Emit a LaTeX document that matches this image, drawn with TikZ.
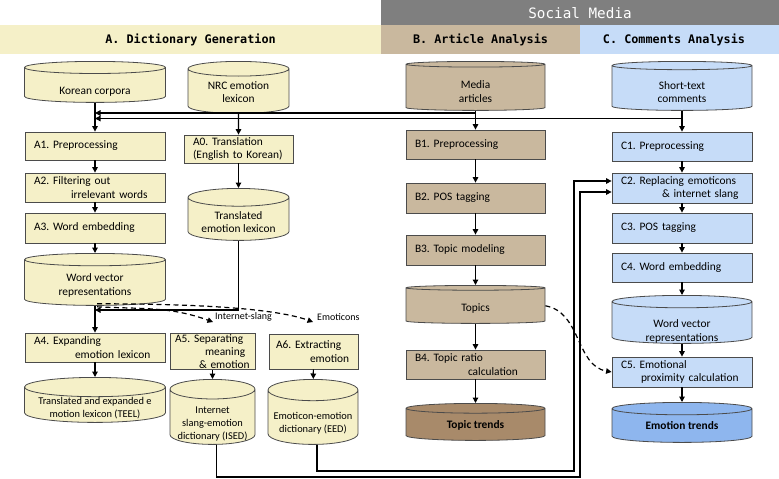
\documentclass[tikz,border=0pt]{standalone}
\usepackage{fontspec}
\setmainfont{Carlito}
\newfontfamily\hdrfont{DejaVu Sans Mono}
\usetikzlibrary{arrows.meta,shapes.geometric}
\frenchspacing

\definecolor{dictfill}{RGB}{245,240,200}
\definecolor{artfill}{RGB}{201,184,158}
\definecolor{artdark}{RGB}{168,138,106}
\definecolor{comfill}{RGB}{198,220,248}
\definecolor{comdark}{RGB}{142,182,238}
\definecolor{bandgray}{RGB}{127,127,127}
\definecolor{edge}{RGB}{75,75,75}

\tikzset{
  headtext/.style={font=\hdrfont\bfseries\fontsize{11.8}{14}\selectfont},
  procbox/.style={rectangle, draw=edge, line width=0.8pt, inner xsep=9pt,
    inner ysep=1pt, align=left, font=\fontsize{11.4}{13.2}\selectfont,
    text width=#1},
  dbase/.style={cylinder, shape border rotate=90, aspect=#1, draw=edge,
    line width=0.8pt, inner sep=0pt, anchor=north,
    font=\fontsize{11.4}{13.5}\selectfont},
  smalltext/.style={font=\fontsize{10.4}{13}\selectfont},
  link/.style={line width=1.2pt, ->},
  dashlink/.style={line width=1.2pt, dash pattern=on 5pt off 3.5pt, ->}
}
% text of a cylinder, lowered into its front face; takes no room
\newcommand{\dbtext}[2][9pt]{\raisebox{-#1}[0pt][0pt]{\begin{tabular}{@{}c@{}}#2\end{tabular}}}

\begin{document}
\begin{tikzpicture}[x=1pt,y=1pt,>={Triangle[length=5.5pt,width=5.5pt]}]
  \useasboundingbox (0,0) rectangle (779,-479);

  % header bands
  \fill[bandgray] (381,0) rectangle (779,-25);
  \fill[dictfill] (0,-25) rectangle (381,-54);
  \fill[artfill] (381,-25) rectangle (580,-54);
  \fill[comfill] (580,-25) rectangle (779,-54);
  \node[text=white, font=\hdrfont\fontsize{14.3}{16}\selectfont] (smtitle) at (580,-13) {Social Media};
  \node[headtext] (atitle) at (190.5,-40) {A. Dictionary Generation};
  \node[headtext] (btitle) at (480.5,-40) {B. Article Analysis};
  \node[headtext] (ctitle) at (674,-40) {C. Comments Analysis};

  % A. dictionary generation
  \node[dbase=0.17, fill=dictfill, minimum width=141pt, minimum height=41pt] (kc) at (95,-61) {\dbtext[9pt]{Korean corpora}};
  \node[dbase=0.24, fill=dictfill, minimum width=101pt, minimum height=52pt] (nrc) at (238.5,-61) {\dbtext[5pt]{NRC emotion\\lexicon}};
  \node[procbox=122pt, fill=dictfill, minimum height=28pt] (a1) at (95,-146) {A1. Preprocessing};
  \node[procbox=122pt, fill=dictfill, minimum height=29pt] (a2) at (95,-187.5) {A2. Filtering out\\\hspace*{37pt}irrelevant words};
  \node[procbox=122pt, fill=dictfill, minimum height=30pt] (a3) at (95,-228) {A3. Word embedding};
  \node[dbase=0.17, fill=dictfill, minimum width=141pt, minimum height=52pt] (wva) at (95,-253) {\dbtext[6pt]{Word vector\\representations}};
  \node[procbox=91pt, fill=dictfill, minimum height=28pt] (a0) at (238.5,-149) {A0. Translation\\(English to Korean)};
  \node[dbase=0.24, fill=dictfill, minimum width=101pt, minimum height=52pt] (tel) at (238.5,-188) {\dbtext[7pt]{Translated\\emotion lexicon}};
  \node[procbox=122pt, fill=dictfill, minimum height=29pt] (a4) at (95,-347.5) {A4. Expanding\\\hspace*{41pt}emotion lexicon};
  \node[dbase=0.17, fill=dictfill, minimum width=141pt, minimum height=45pt, smalltext] (teel) at (95,-377) {\dbtext[5.5pt]{Translated and expanded e\\motion lexicon (TEEL)}};
  \node[procbox=75pt, inner xsep=5pt, fill=dictfill, minimum height=35pt] (a5) at (212.5,-351.5) {A5. Separating\\\hspace*{30pt}meaning\\\hspace*{24pt}\& emotion};
  \node[procbox=75pt, inner xsep=7pt, fill=dictfill, minimum height=35pt] (a6) at (313.5,-351.5) {A6. Extracting\\\hspace*{34pt}emotion};
  \node[dbase=0.28, fill=dictfill, minimum width=85pt, minimum height=65pt, smalltext] (ised) at (212.5,-379) {\dbtext[9.5pt]{Internet\\slang-emotion\\dictionary (ISED)}};
  \node[dbase=0.27, fill=dictfill, minimum width=90pt, minimum height=65pt, smalltext] (eed) at (313,-379) {\dbtext[8.5pt]{Emoticon-emotion\\dictionary (EED)}};

  % B. article analysis
  \node[dbase=0.17, fill=artfill, minimum width=139pt, minimum height=49pt] (media) at (475.5,-61) {\dbtext[8pt]{Media\\articles}};
  \node[procbox=121pt, fill=artfill, minimum height=29pt] (b1) at (475.5,-144.5) {B1. Preprocessing};
  \node[procbox=121pt, fill=artfill, minimum height=30pt] (b2) at (475.5,-198) {B2. POS tagging};
  \node[procbox=121pt, fill=artfill, minimum height=30pt] (b3) at (475.5,-250) {B3. Topic modeling};
  \node[dbase=0.17, fill=artfill, minimum width=139pt, minimum height=38pt] (topics) at (475.5,-285) {\dbtext[6pt]{Topics}};
  \node[procbox=121pt, fill=artfill, minimum height=29pt] (b4) at (475.5,-364.5) {B4. Topic ratio\\\hspace*{53pt}calculation};
  \node[dbase=0.17, fill=artdark, minimum width=139pt, minimum height=37pt, font=\bfseries\fontsize{11.4}{13.5}\selectfont] (ttrend) at (475.5,-403) {\dbtext[4pt]{Topic trends}};

  % C. comments analysis
  \node[dbase=0.17, fill=comfill, minimum width=140pt, minimum height=49pt] (com) at (682,-61) {\dbtext[8pt]{Short-text\\comments}};
  \node[procbox=122pt, fill=comfill, minimum height=29pt] (c1) at (682,-146.5) {C1. Preprocessing};
  \node[procbox=122pt, fill=comfill, minimum height=30pt] (c2) at (682,-188) {C2. Replacing emoticons\\\hspace*{41pt}\& internet slang};
  \node[procbox=122pt, fill=comfill, minimum height=30pt] (c3) at (682,-228) {C3. POS tagging};
  \node[procbox=122pt, fill=comfill, minimum height=29pt] (c4) at (682,-267.5) {C4. Word embedding};
  \node[dbase=0.17, fill=comfill, minimum width=140pt, minimum height=48pt] (wvc) at (682,-295) {\dbtext[12pt]{Word vector\\representations}};
  \node[procbox=122pt, fill=comfill, minimum height=30pt] (c5) at (682,-372) {C5. Emotional\\\hspace*{20pt}proximity calculation};
  \node[dbase=0.17, fill=comdark, minimum width=140pt, minimum height=40pt, font=\bfseries\fontsize{11.4}{13.5}\selectfont] (etrend) at (682,-402) {\dbtext[3.5pt]{Emotion trends}};

  % junctions
  \coordinate (mediajoin) at (475.5,-113);
  \coordinate (comjoin) at (682,-118.5);
  \coordinate (telturn) at (238.5,-310);
  \coordinate (slangtip) at (213,-322);
  \coordinate (emotip) at (313,-322);
  \coordinate (isedturn) at (580,-477);
  \coordinate (eedturn) at (574,-471);

  % connectors
  \draw[link] (kc) -- (a1);
  \draw[link] (nrc) -- (a0);
  \draw[link] (media) -- (b1);
  \draw[link] (com) -- (c1);
  \draw[link] (mediajoin) -- (kc.south |- mediajoin);
  \draw[link] (comjoin) -- (kc.south |- comjoin);
  \draw[link] (a1) -- (a2);
  \draw[link] (a2) -- (a3);
  \draw[link] (a3) -- (wva);
  \draw[link] (a0) -- (tel);
  \draw[link] (wva) -- (a4);
  \draw[link] (tel.south) |- (wva.south |- telturn);
  \draw[link] (a4) -- (teel);
  \draw[link] (a5) -- (ised);
  \draw[link] (a6) -- (eed);
  \draw[link] (b1) -- (b2);
  \draw[link] (b2) -- (b3);
  \draw[link] (b3) -- (topics);
  \draw[link] (topics) -- (b4);
  \draw[link] (b4) -- (ttrend);
  \draw[link] (c1) -- (c2);
  \draw[link] (c2) -- (c3);
  \draw[link] (c3) -- (c4);
  \draw[link] (c4) -- (wvc);
  \draw[link] (wvc) -- (c5);
  \draw[link] (c5) -- (etrend);
  \draw[link] ([xshift=4pt]ised.south) |- (isedturn) |- ([yshift=-4pt]c2.west);
  \draw[link] ([xshift=4pt]eed.south) |- (eedturn) |- ([yshift=7pt]c2.west);

  \draw[dashlink] ([xshift=2pt,yshift=2pt]wva.south) to[out=0,in=160,looseness=0.6] (emotip);
  \draw[dashlink] ([xshift=2pt,yshift=-1pt]wva.south) to[out=-3,in=160] (slangtip);
  \draw[dashlink] (topics.east) to[out=-10,in=170] (c5.west);

  \node[anchor=west, inner sep=1pt] (slanglbl) at (214,-317) {Internet-slang};
  \node[anchor=west, inner sep=1pt] (emolbl) at (316,-317) {Emoticons};

\end{tikzpicture}
\end{document}
